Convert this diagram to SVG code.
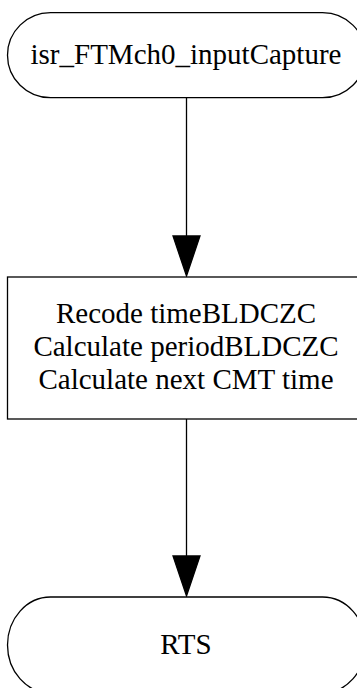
<svg xmlns="http://www.w3.org/2000/svg" width="357" height="688" viewBox="0 0 357 688">
<style>
.shape{fill:#fff;stroke:#000;stroke-width:1.3}
.lbl{font-family:"Liberation Serif","Times New Roman",serif;font-size:29px;fill:#000;text-anchor:middle}
.edge{stroke:#000;stroke-width:1.3;fill:none}
.head{fill:#000;stroke:#000;stroke-width:1.3}
</style>
<rect width="357" height="688" fill="#fff"/>
<g id="connectors">
<line class="edge" x1="186.5" y1="98" x2="186.5" y2="237"/>
<polygon class="head" points="173,236 200,236 186.5,276"/>
<line class="edge" x1="186.5" y1="419" x2="186.5" y2="557"/>
<polygon class="head" points="173,556 200,556 186.5,596"/>
</g>
<g id="node_start">
<rect class="shape" x="7.5" y="12.7" width="358" height="85" rx="43" ry="42.5"/>
<text class="lbl" x="186" y="64">isr_FTMch0_inputCapture</text>
</g>
<g id="node_process">
<rect class="shape" x="7.5" y="277" width="358" height="142"/>
<text class="lbl" x="186" y="323">Recode timeBLDCZC</text>
<text class="lbl" x="186" y="356">Calculate periodBLDCZC</text>
<text class="lbl" x="186" y="389">Calculate next CMT time</text>
</g>
<g id="node_end">
<rect class="shape" x="7.5" y="597" width="358" height="96" rx="43" ry="48"/>
<text class="lbl" x="186" y="654">RTS</text>
</g>
</svg>
